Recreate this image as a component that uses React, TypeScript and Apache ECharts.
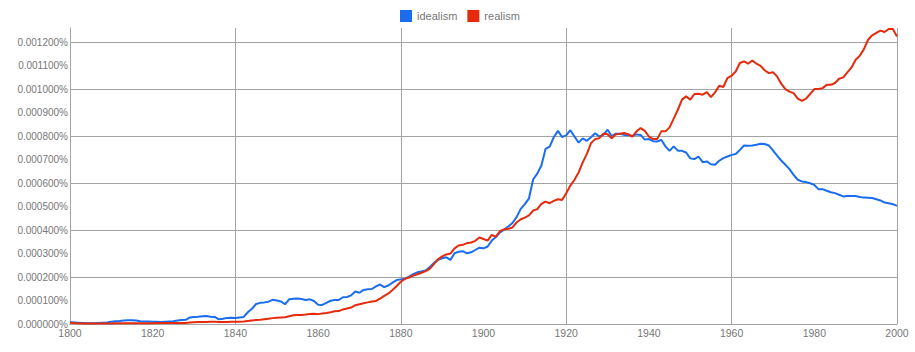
import React, { useEffect, useRef } from "react";
import * as echarts from "echarts";

const START_YEAR = 1800;
const END_YEAR = 2000;
const SERIES_NAMES = ["idealism", "realism"];
const COLORS = ["#1a6df0", "#e52b0c"];

// values in units of 0.0001 %
const idealism = [
  0.07, 0.06, 0.05, 0.04, 0.03, 0.03, 0.03, 0.04, 0.05, 0.06,
  0.1, 0.12, 0.13, 0.15, 0.16, 0.16, 0.15, 0.12, 0.11, 0.11,
  0.1, 0.1, 0.09, 0.1, 0.11, 0.12, 0.15, 0.17, 0.18, 0.28,
  0.3, 0.31, 0.33, 0.34, 0.31, 0.3, 0.2, 0.22, 0.26, 0.27,
  0.26, 0.28, 0.3, 0.5, 0.65, 0.85, 0.9, 0.92, 0.95, 1.03,
  1.0, 0.96, 0.84, 1.05, 1.07, 1.09, 1.06, 1.02, 1.05, 0.98,
  0.82, 0.81, 0.9, 0.99, 1.02, 1.02, 1.14, 1.15, 1.22, 1.38,
  1.33, 1.45, 1.48, 1.49, 1.6, 1.68, 1.57, 1.64, 1.76, 1.87,
  1.9, 1.93, 2.02, 2.12, 2.2, 2.24, 2.28, 2.42, 2.6, 2.73,
  2.8, 2.84, 2.73, 3.01, 3.08, 3.1, 3.01, 3.05, 3.15, 3.25,
  3.22, 3.3, 3.55, 3.7, 3.9, 4.02, 4.15, 4.3, 4.55, 4.9,
  5.1, 5.35, 6.15, 6.4, 6.75, 7.45, 7.55, 7.95, 8.22, 7.96,
  8.03, 8.25, 7.98, 7.72, 7.9, 7.8, 7.95, 8.12, 7.98, 8.05,
  8.27, 8.0, 8.1, 8.1, 8.05, 8.03, 8.01, 8.07, 8.05, 7.85,
  7.87, 7.78, 7.77, 7.84, 7.56, 7.37, 7.56, 7.38, 7.37, 7.3,
  7.05, 7.02, 7.13, 6.89, 6.92, 6.8, 6.78, 6.95, 7.06, 7.13,
  7.2, 7.24, 7.41, 7.6, 7.59, 7.6, 7.63, 7.67, 7.66, 7.6,
  7.39, 7.17, 6.96, 6.78, 6.59, 6.35, 6.14, 6.07, 6.04, 5.99,
  5.92, 5.74, 5.74, 5.67, 5.61, 5.57, 5.5, 5.43, 5.45, 5.45,
  5.45, 5.41, 5.38, 5.37, 5.36, 5.31, 5.26, 5.17, 5.14, 5.1,
  5.03,
];

const realism = [
  0.05, 0.04, 0.03, 0.02, 0.02, 0.02, 0.02, 0.02, 0.02, 0.02,
  0.02, 0.03, 0.03, 0.03, 0.03, 0.03, 0.03, 0.03, 0.03, 0.03,
  0.03, 0.04, 0.04, 0.04, 0.04, 0.04, 0.04, 0.04, 0.04, 0.06,
  0.07, 0.08, 0.09, 0.09, 0.1, 0.1, 0.09, 0.09, 0.09, 0.1,
  0.1, 0.1, 0.11, 0.13, 0.15, 0.17, 0.18, 0.2, 0.22, 0.25,
  0.27, 0.28, 0.29, 0.33, 0.37, 0.38, 0.38, 0.4, 0.43, 0.44,
  0.42, 0.45, 0.47, 0.5, 0.54, 0.55, 0.62, 0.66, 0.7, 0.8,
  0.84, 0.88, 0.92, 0.96, 0.98, 1.08, 1.2, 1.3, 1.45, 1.62,
  1.8, 1.92, 1.98, 2.06, 2.12, 2.18, 2.25, 2.35, 2.55, 2.75,
  2.88, 2.96, 3.0, 3.22, 3.34, 3.37, 3.44, 3.47, 3.54, 3.68,
  3.62, 3.55, 3.79, 3.72, 3.96, 4.03, 4.05, 4.11, 4.32, 4.46,
  4.53, 4.62, 4.83, 4.89, 5.11, 5.21, 5.14, 5.24, 5.31, 5.28,
  5.57, 5.89, 6.14, 6.45, 6.88, 7.24, 7.7, 7.87, 7.91, 8.1,
  8.08, 7.91, 8.08, 8.1, 8.13, 8.08, 7.98, 8.2, 8.34, 8.22,
  7.98, 7.87, 7.87, 8.2, 8.2, 8.37, 8.74, 9.12, 9.55, 9.69,
  9.55, 9.79, 9.8, 9.76, 9.87, 9.66, 9.86, 10.14, 10.09, 10.47,
  10.57, 10.75, 11.11, 11.18, 11.08, 11.22, 11.08, 10.99, 10.8, 10.68,
  10.72, 10.54, 10.23, 10.0, 9.89, 9.83, 9.59, 9.5, 9.59, 9.79,
  10.0, 10.0, 10.04, 10.18, 10.18, 10.26, 10.44, 10.5, 10.71, 10.92,
  11.25, 11.42, 11.7, 12.1, 12.29, 12.39, 12.49, 12.43, 12.56, 12.56,
  12.24,
];

const Y_MAX = 12.6;
const GRID_COLOR = "#a3a3a3";
const TEXT_COLOR = "#777777";

export default function App() {
  const ref = useRef<HTMLDivElement>(null);

  useEffect(() => {
    if (!ref.current) return;
    const chart = echarts.init(ref.current, undefined, { renderer: "svg" });
    const toPairs = (arr: number[]) => arr.map((v, i) => [START_YEAR + i, v]);
    const allData = [idealism, realism];

    chart.setOption({
      animation: false,
      backgroundColor: "#ffffff",
      textStyle: { fontFamily: "Arial, 'Liberation Sans', sans-serif" },
      legend: {
        left: 395,
        top: 5,
        icon: "rect",
        itemWidth: 12,
        itemHeight: 12,
        itemGap: 10,
        textStyle: { fontSize: 11, color: TEXT_COLOR },
        data: SERIES_NAMES,
      },
      grid: { left: 70, right: 18, top: 28, bottom: 28, containLabel: false },
      xAxis: [
        {
          type: "value",
          min: START_YEAR,
          max: END_YEAR,
          interval: 20,
          axisLine: { show: true, lineStyle: { color: GRID_COLOR, width: 1 } },
          axisTick: { show: false },
          splitLine: { show: false },
          axisLabel: {
            color: TEXT_COLOR,
            fontSize: 10.5,
            margin: 3,
            formatter: (v: number) => String(v),
          },
        },
        {
          type: "value",
          position: "top",
          min: START_YEAR,
          max: END_YEAR,
          interval: 40,
          axisLine: { show: false },
          axisTick: { show: false },
          axisLabel: { show: false },
          splitLine: {
            show: true,
            showMinLine: false,
            lineStyle: { color: GRID_COLOR, width: 1 },
          },
        },
      ],
      yAxis: [
        {
          type: "value",
          min: 0,
          max: Y_MAX,
          interval: 1,
          axisLine: { show: true, lineStyle: { color: GRID_COLOR, width: 1 } },
          axisTick: { show: false },
          splitLine: { show: false },
          axisLabel: {
            color: TEXT_COLOR,
            fontSize: 10,
            margin: 2,
            showMaxLabel: false,
            formatter: (v: number) => (v / 10000).toFixed(6) + "%",
          },
        },
        {
          type: "value",
          position: "right",
          min: 0,
          max: Y_MAX,
          interval: 2,
          axisLine: { show: false },
          axisTick: { show: false },
          axisLabel: { show: false },
          splitLine: {
            show: true,
            showMinLine: false,
            showMaxLine: false,
            lineStyle: { color: GRID_COLOR, width: 1 },
          },
        },
      ],
      series: SERIES_NAMES.map((name, i) => ({
        name,
        type: "line",
        xAxisIndex: 0,
        yAxisIndex: 0,
        data: toPairs(allData[i]),
        showSymbol: false,
        symbol: "none",
        color: COLORS[i],
        lineStyle: { color: COLORS[i], width: 2 },
        z: 3 + i,
      })),
    });

    return () => chart.dispose();
  }, []);

  return (
    <div
      ref={ref}
      style={{ position: "fixed", left: 0, top: 0, width: 915, height: 352 }}
    />
  );
}
